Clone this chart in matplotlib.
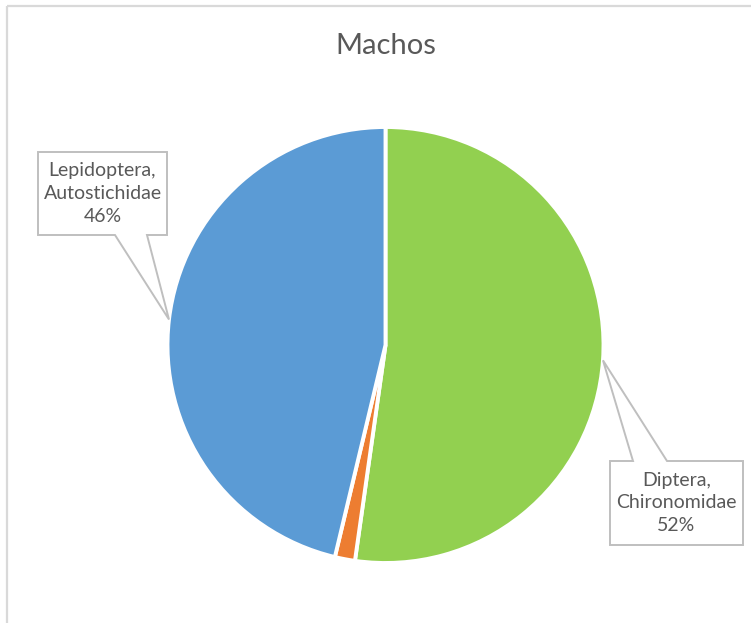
import matplotlib.pyplot as plt
from matplotlib.patches import Polygon
import numpy as np

plt.rcParams["font.family"] = ["Lato", "DejaVu Sans"]

# insect groups caught (males)
groups = ["Diptera,\nChironomidae", "Otros", "Lepidoptera,\nAutostichidae"]
counts = [35, 1, 31]
colors = ["#92D050", "#ED7D31", "#5B9BD5"]
show_label = [True, False, True]

W, H = 751, 623
TEXT = "#595959"
EDGE = "#BFBFBF"

fig = plt.figure(figsize=(W / 100, H / 100), dpi=100)
ax = fig.add_axes([0, 0, 1, 1])


def py(y_top):
    # pixel rows are measured from the top
    return H - y_top


cx, cy, r = 385.5, py(345), 218
wedges, _ = ax.pie(
    counts,
    colors=colors,
    startangle=90,
    counterclock=False,
    center=(cx, cy),
    radius=r,
    wedgeprops=dict(edgecolor="white", linewidth=2.8),
    frame=True,
)
ax.set_xlim(0, W)
ax.set_ylim(0, H)
ax.set_aspect("equal")
ax.axis("off")

# chart area border (left and top edges only)
ax.plot([7, 7], [0, py(6)], color="#D9D9D9", lw=1.6, solid_capstyle="butt")
ax.plot([7, W], [py(6), py(6)], color="#D9D9D9", lw=1.6, solid_capstyle="butt")

ax.text(386, py(54), "Machos", ha="center", va="baseline", fontsize=21, color=TEXT)

total = sum(counts)
# callout boxes: (left, top, right, bottom) in pixels, pointer side and base span
boxes = {
    0: dict(box=(610, 461, 743, 545), side="top", base=(633, 667)),
    2: dict(box=(38, 152, 167, 235), side="bottom", base=(115, 147)),
}

for i, (name, val) in enumerate(zip(groups, counts)):
    if not show_label[i]:
        continue
    w = wedges[i]
    mid = np.deg2rad((w.theta1 + w.theta2) / 2)
    tip = (cx + r * np.cos(mid), cy + r * np.sin(mid))
    x0, t, x1, b = boxes[i]["box"]
    b0, b1 = boxes[i]["base"]
    yt, yb = py(t), py(b)
    if boxes[i]["side"] == "top":
        pts = [(x0, yt), (b0, yt), tip, (b1, yt), (x1, yt), (x1, yb), (x0, yb)]
    else:
        pts = [(x0, yt), (x1, yt), (x1, yb), (b1, yb), tip, (b0, yb), (x0, yb)]
    ax.add_patch(Polygon(pts, closed=True, facecolor="white", edgecolor=EDGE,
                         lw=1.4, joinstyle="miter", zorder=3))
    pct = round(100 * val / total)
    ax.text((x0 + x1) / 2, (yt + yb) / 2, f"{name}\n{pct}%", ha="center",
            va="center", fontsize=14, color=TEXT, linespacing=1.4, zorder=4)

fig.savefig("out.png", dpi=100)
